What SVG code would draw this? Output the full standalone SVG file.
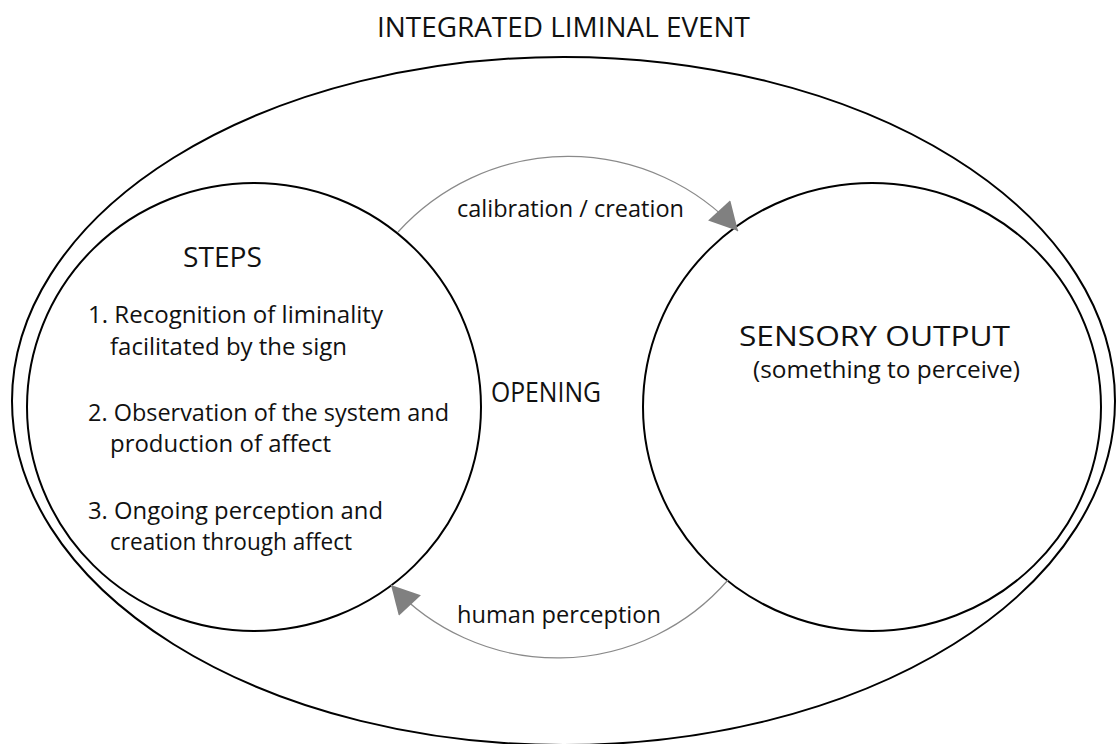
<svg xmlns="http://www.w3.org/2000/svg" width="1117" height="744" viewBox="0 0 1117 744">
<defs>
<style>
.ln{fill:none;stroke:#000;stroke-width:2}
.arc{fill:none;stroke:#8a8a8a;stroke-width:1.2}
text{font-family:"Open Sans","Noto Sans","Liberation Sans",sans-serif;fill:#111}
.h{font-size:28px}
.t{font-size:24px}
.s{font-size:23px}
</style>
<marker id="ah" markerUnits="userSpaceOnUse" markerWidth="30" markerHeight="30" viewBox="0 0 26 28" refX="26" refY="14" orient="auto">
<path d="M0,0 L26,14 L0,28 Z" fill="#808080"/>
</marker>
</defs>
<rect width="1117" height="744" fill="#fff"/>
<g id="outer">
<ellipse class="ln" cx="563.5" cy="401" rx="551.5" ry="344"/>
<text class="h" x="377" y="37" textLength="373" lengthAdjust="spacingAndGlyphs">INTEGRATED LIMINAL EVENT</text>
</g>
<g id="steps">
<ellipse class="ln" cx="254" cy="407" rx="227" ry="224"/>
<text class="h" x="183" y="267" textLength="79" lengthAdjust="spacingAndGlyphs">STEPS</text>
<text class="t" x="88" y="323" textLength="295" lengthAdjust="spacingAndGlyphs">1. Recognition of liminality</text>
<text class="t" x="110" y="355" textLength="237" lengthAdjust="spacingAndGlyphs">facilitated by the sign</text>
<text class="t" x="88" y="421" textLength="361" lengthAdjust="spacingAndGlyphs">2. Observation of the system and</text>
<text class="t" x="110" y="452" textLength="221" lengthAdjust="spacingAndGlyphs">production of affect</text>
<text class="t" x="88" y="519" textLength="295" lengthAdjust="spacingAndGlyphs">3. Ongoing perception and</text>
<text class="t" x="110" y="550" textLength="242" lengthAdjust="spacingAndGlyphs">creation through affect</text>
</g>
<g id="opening">
<text class="h" x="546" y="402" text-anchor="middle" textLength="110" lengthAdjust="spacingAndGlyphs" style="font-size:27px">OPENING</text>
</g>
<g id="sensory">
<ellipse class="ln" cx="872" cy="407" rx="229" ry="224"/>
<text class="h" x="739" y="346" textLength="271" lengthAdjust="spacingAndGlyphs">SENSORY OUTPUT</text>
<text class="t" x="753" y="378" textLength="267" lengthAdjust="spacingAndGlyphs">(something to perceive)</text>
</g>
<g id="connectors">
<path class="arc" d="M398,232 A230,230 0 0 1 738,231" marker-end="url(#ah)"/>
<path class="arc" d="M728,580 A226,226 0 0 1 391,585" marker-end="url(#ah)"/>
<text class="s" x="457" y="217" textLength="227" lengthAdjust="spacingAndGlyphs">calibration / creation</text>
<text class="s" x="457" y="623" textLength="204" lengthAdjust="spacingAndGlyphs">human perception</text>
</g>
</svg>
